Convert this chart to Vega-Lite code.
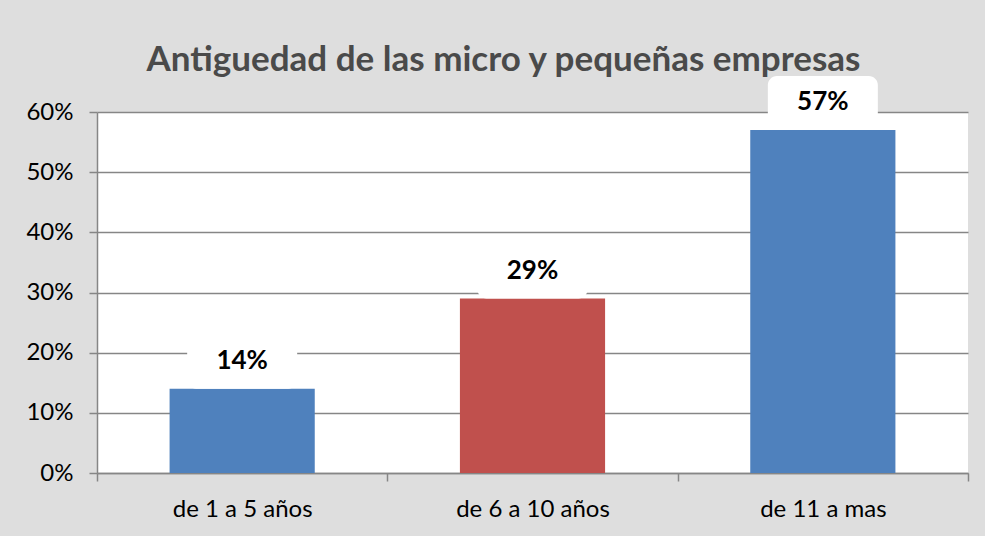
{
  "$schema": "https://vega.github.io/schema/vega-lite/v6.json",
  "width": 871,
  "height": 361,
  "autosize": {"type": "none"},
  "padding": {"left": 97, "top": 112, "right": 17, "bottom": 63},
  "background": "#dedede",
  "config": {
    "view": {"fill": "white", "stroke": null},
    "font": "Lato"
  },
  "title": {
    "text": "Antiguedad de las micro y pequeñas empresas",
    "font": "Lato",
    "fontSize": 35,
    "fontWeight": "bold",
    "color": "#4a4a4a",
    "anchor": "middle",
    "dx": -29,
    "offset": -2
  },
  "data": {
    "values": [
      {"categoria": "de 1 a 5 años", "valor": 0.14, "grupo": "a"},
      {"categoria": "de 6 a 10 años", "valor": 0.29, "grupo": "b"},
      {"categoria": "de 11 a mas", "valor": 0.57, "grupo": "a"}
    ]
  },
  "encoding": {
    "x": {
      "field": "categoria",
      "type": "nominal",
      "sort": null,
      "title": null,
      "scale": {"paddingInner": 0, "paddingOuter": 0},
      "axis": {
        "labelAngle": 0,
        "labelFontSize": 24,
        "labelColor": "#000000",
        "labelFont": "Lato",
        "labelPadding": 16,
        "tickBand": "extent",
        "tickSize": 8,
        "tickColor": "#868686",
        "tickWidth": 1.5,
        "domainColor": "#868686",
        "domainWidth": 1.5,
        "grid": false
      }
    },
    "y": {
      "field": "valor",
      "type": "quantitative",
      "title": null,
      "scale": {"domain": [0, 0.6]},
      "axis": {
        "format": ".0%",
        "values": [0, 0.1, 0.2, 0.3, 0.4, 0.5, 0.6],
        "labelFontSize": 24,
        "labelColor": "#000000",
        "labelFont": "Lato",
        "labelPadding": 16,
        "tickSize": 8,
        "tickColor": "#868686",
        "tickWidth": 1.5,
        "domainColor": "#868686",
        "domainWidth": 1.5,
        "gridColor": "#868686",
        "gridWidth": 1.5
      }
    }
  },
  "layer": [
    {
      "mark": {"type": "bar", "width": {"band": 0.5}},
      "encoding": {
        "color": {
          "field": "grupo",
          "type": "nominal",
          "scale": {"domain": ["a", "b"], "range": ["#4F81BD", "#C0504D"]},
          "legend": null
        }
      }
    },
    {
      "mark": {"type": "rect", "fill": "white", "width": 110, "height": 54, "cornerRadius": 9, "yOffset": -27},
      "encoding": {}
    },
    {
      "mark": {"type": "text", "fontSize": 26, "fontWeight": "bold", "color": "#000000", "yOffset": -28, "baseline": "middle"},
      "encoding": {
        "text": {"field": "valor", "type": "quantitative", "format": ".0%"}
      }
    }
  ]
}
